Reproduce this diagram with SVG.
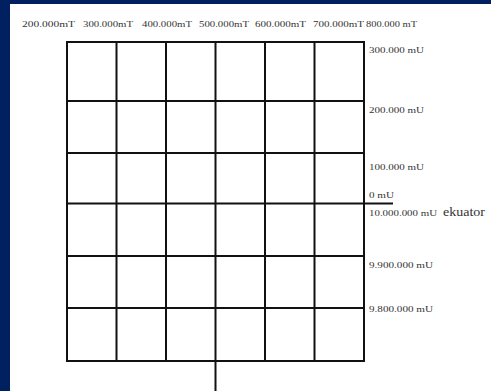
<svg xmlns="http://www.w3.org/2000/svg" width="491" height="391" viewBox="0 0 491 391">
<style>
.t{font-family:"Liberation Serif","Times New Roman",serif;font-size:9px;fill:#333}
.g{stroke:#111;stroke-width:2;fill:none}
</style>
<rect x="0" y="0" width="491" height="391" fill="#00205f"/>
<rect x="10" y="4" width="481" height="387" fill="#fff"/>
<g id="grid">
<rect class="g" x="67" y="42" width="297" height="319"/>
<path class="g" d="M116.5 42V361M166 42V361M215.5 42V391M265 42V361M314.5 42V361"/>
<path class="g" d="M67 101H364M67 153H364M67 203.5H393M67 256H364M67 308H364"/>
</g>
<g id="top-labels">
<text class="t" x="22" y="27" textLength="53" lengthAdjust="spacingAndGlyphs">200.000mT</text>
<text class="t" x="83" y="27" textLength="50" lengthAdjust="spacingAndGlyphs">300.000mT</text>
<text class="t" x="142" y="27" textLength="50" lengthAdjust="spacingAndGlyphs">400.000mT</text>
<text class="t" x="199" y="27" textLength="50" lengthAdjust="spacingAndGlyphs">500.000mT</text>
<text class="t" x="255" y="27" textLength="51" lengthAdjust="spacingAndGlyphs">600.000mT</text>
<text class="t" x="313" y="27" textLength="51" lengthAdjust="spacingAndGlyphs">700.000mT</text>
<text class="t" x="366" y="27" textLength="51" lengthAdjust="spacingAndGlyphs">800.000 mT</text>
</g>
<g id="right-labels">
<text class="t" x="369" y="53" textLength="55" lengthAdjust="spacingAndGlyphs">300.000 mU</text>
<text class="t" x="369" y="112.5" textLength="55" lengthAdjust="spacingAndGlyphs">200.000 mU</text>
<text class="t" x="369" y="170" textLength="55" lengthAdjust="spacingAndGlyphs">100.000 mU</text>
<text class="t" x="369" y="198" textLength="25" lengthAdjust="spacingAndGlyphs">0 mU</text>
<text class="t" x="369" y="216" textLength="68" lengthAdjust="spacingAndGlyphs">10.000.000 mU</text>
<text class="t" x="443" y="216" style="font-size:12px" textLength="42" lengthAdjust="spacingAndGlyphs">ekuator</text>
<text class="t" x="369" y="268" textLength="64" lengthAdjust="spacingAndGlyphs">9.900.000 mU</text>
<text class="t" x="369" y="311.5" textLength="64" lengthAdjust="spacingAndGlyphs">9.800.000 mU</text>
</g>
</svg>
